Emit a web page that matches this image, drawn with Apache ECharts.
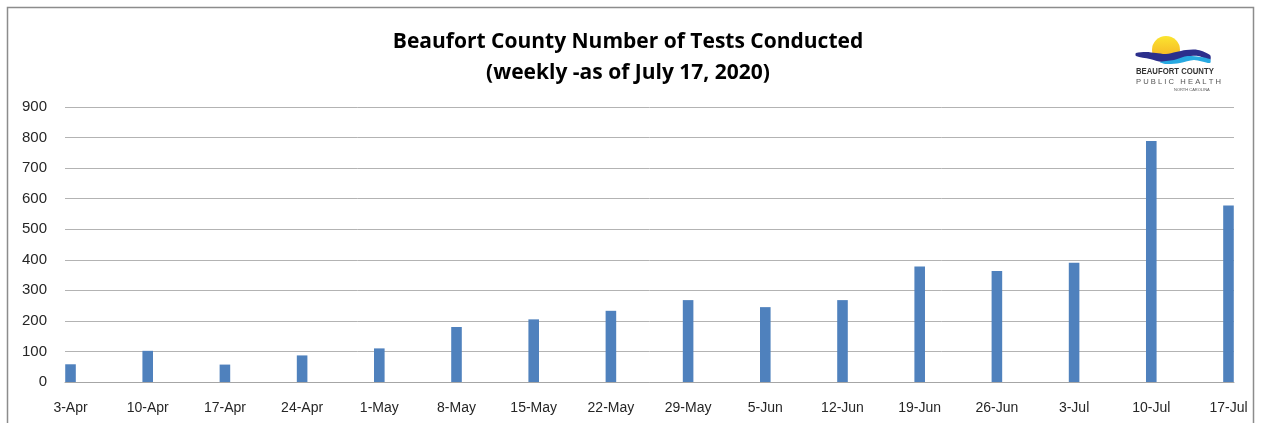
<!DOCTYPE html>
<html><head><meta charset="utf-8">
<script src="https://cdn.jsdelivr.net/npm/echarts@6/dist/echarts.min.js"></script>
<style>html,body{margin:0;padding:0;background:#fff}#c{width:1263px;height:423px}</style>
</head><body><div id="c"></div>
<script>
var weekLabels = ['3-Apr','10-Apr','17-Apr','24-Apr','1-May','8-May','15-May','22-May','29-May','5-Jun','12-Jun','19-Jun','26-Jun','3-Jul','10-Jul','17-Jul'];
var testsConducted = [58, 102, 57, 87, 110, 180, 205, 233, 268, 245, 268, 378, 363, 390, 789, 578];
var yTicks = [0,100,200,300,400,500,600,700,800,900];
var titleLines = ['Beaufort County Number of Tests Conducted', '(weekly -as of July 17, 2020)'];

// daily axis (weekly bars on a date axis, one slot per day)
var dayCats = [], dayVals = [];
weekLabels.forEach(function (lab, i) {
  dayCats.push(lab); dayVals.push(testsConducted[i]);
  if (i < weekLabels.length - 1) {
    for (var k = 1; k < 7; k++) { dayCats.push('_' + i + '_' + k); dayVals.push(null); }
  }
});

var chart = echarts.init(document.getElementById('c'), null, {renderer: 'canvas'});
chart.setOption({
  animation: false,
  backgroundColor: '#fff',
  title: {
    text: titleLines.join('\n'),
    left: 623, top: 22, textAlign: 'center',
    textStyle: {fontFamily: 'Open Sans', fontWeight: 'bold', fontSize: 21, color: '#000', lineHeight: 31}
  },
  grid: {left: 65, right: 29, top: 107, bottom: 41, containLabel: false},
  xAxis: {
    type: 'category', data: dayCats, boundaryGap: true,
    axisLine: {show: true, lineStyle: {color: '#a6a6a6', width: 1}},
    axisTick: {show: false},
    axisLabel: {
      interval: 0, margin: 19, color: '#262626', fontFamily: 'Liberation Sans', fontSize: 14,
      formatter: function (v) { return v.charAt(0) === '_' ? '' : v; }
    },
    splitLine: {show: false}
  },
  yAxis: {
    type: 'value', min: yTicks[0], max: yTicks[yTicks.length - 1], interval: 100,
    axisLine: {show: false}, axisTick: {show: false},
    axisLabel: {margin: 18, color: '#262626', fontFamily: 'Liberation Sans', fontSize: 15},
    splitLine: {lineStyle: {color: '#b3b3b3', width: 1}}
  },
  series: [{
    type: 'bar', data: dayVals, barCategoryGap: '4%',
    itemStyle: {color: '#4f81bd'}
  }],
  graphic: [
    {type: 'rect', shape: {x: 7.5, y: 7.5, width: 1246, height: 430}, style: {fill: 'none', stroke: '#8c8c8c', lineWidth: 1.5}, silent: true},
    {type: 'circle', shape: {cx: 1166, cy: 50, r: 14}, style: {fill: new echarts.graphic.LinearGradient(0, 0, 0, 1, [{offset: 0, color: '#fbe52f'}, {offset: 1, color: '#f5a623'}])}, z: 100},
    {type: 'rect', shape: {x: 1136, y: 56, width: 76, height: 9}, style: {fill: '#fff'}, z: 101},
    {type: 'polygon', shape: {smooth: 0.3, points: [[1136,53],[1146,52],[1156,53],[1166,54],[1176,52],[1186,50],[1198,50],[1210,55],[1210,60],[1198,56],[1186,57],[1174,61],[1162,62],[1150,59],[1136,56]]}, style: {fill: '#2c2f8c'}, z: 102},
    {type: 'polygon', shape: {smooth: 0.3, points: [[1160,62],[1174,60],[1188,56],[1210,59],[1210,63],[1194,60],[1180,63],[1166,64]]}, style: {fill: '#27a9e1'}, z: 102},
    {type: 'text', x: 1136, y: 67, scaleX: 0.86, style: {text: 'BEAUFORT COUNTY', font: 'bold 9px "Liberation Sans", sans-serif', fill: '#333'}, z: 103},
    {type: 'text', x: 1136, y: 78, scaleX: 0.95, style: {text: 'P U B L I C   H E A L T H', font: '8px "Liberation Sans", sans-serif', fill: '#555'}, z: 103},
    {type: 'text', x: 1174, y: 88, style: {text: 'NORTH CAROLINA', font: '4px "Liberation Sans", sans-serif', fill: '#555'}, z: 103}
  ]
});
</script>
</body></html>
